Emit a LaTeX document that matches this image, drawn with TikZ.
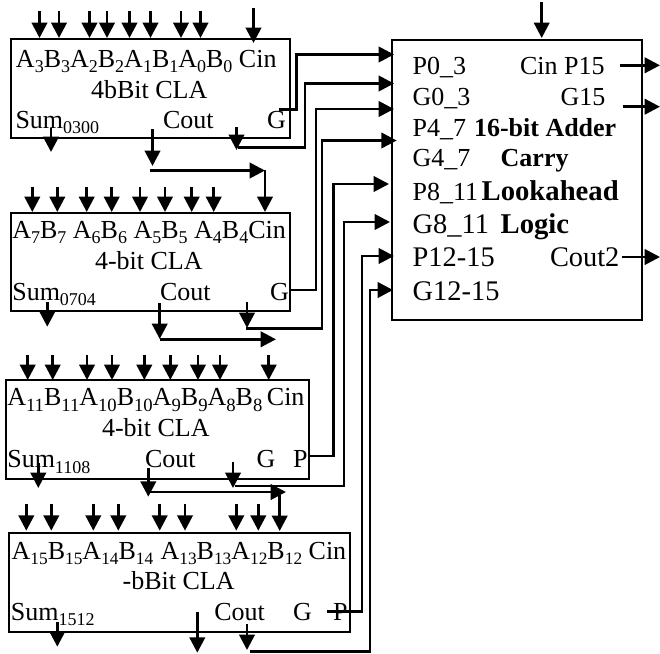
\documentclass[tikz,border=0pt]{standalone}
\usepackage{fontspec}
\setmainfont{Liberation Serif}
\usetikzlibrary{arrows.meta}
\newcommand\losize{13.5pt}
\newcommand\lo[1]{\raisebox{-0.22em}{\fontsize{\losize}{14pt}\selectfont #1}}
\newcommand\stub[4]{\coordinate (#1-a) at (#2,#3);\coordinate (#1-b) at (#2,#4);\draw[wire,tip] (#1-a) -- (#1-b);}
\newcommand\hstub[4]{\coordinate (#1-a) at (#2,#4);\coordinate (#1-b) at (#3,#4);\draw[wire,tip] (#1-a) -- (#1-b);}
\newcommand\elbow[6]{\coordinate (#1-a) at (#2,#3);\coordinate (#1-m) at (#4,#3);\coordinate (#1-n) at (#4,#5);\coordinate (#1-b) at (#6,#5);\draw[wire,tip] (#1-a) -- (#1-m) -- (#1-n) -- (#1-b);}
\tikzset{
  block/.style={draw=black,line width=1.5pt,anchor=north west,inner sep=0pt,outer sep=0pt},
  wire/.style={line width=2.1pt,draw=black},
  tip/.style={-{Triangle[width=11.5pt,length=11.5pt]}},
  lab/.style={anchor=base west,inner sep=0pt,outer sep=0pt,font=\fontsize{19.5pt}{22pt}\selectfont},
  biglab/.style={lab,font=\fontsize{21.3pt}{22pt}\selectfont},
  blab/.style={lab,font=\fontsize{19.5pt}{22pt}\selectfont\bfseries},
  bbiglab/.style={lab,font=\fontsize{21.5pt}{22pt}\selectfont\bfseries},
}
\begin{document}
\begin{tikzpicture}[x=0.75pt,y=-0.75pt]
\useasboundingbox (0,0) rectangle (660,653);
% blocks
\node[block,minimum width=279.5*.75pt,minimum height=98.5*.75pt] (b1) at (10.5,39) {};
\node[block,minimum width=279.5*.75pt,minimum height=98.5*.75pt] (b2) at (10.5,212.5) {};
\node[block,minimum width=302.5*.75pt,minimum height=99*.75pt] (b3) at (6,380) {};
\node[block,minimum width=341*.75pt,minimum height=98.5*.75pt] (b4) at (9,533) {};
\node[block,minimum width=250*.75pt,minimum height=280*.75pt] (adder) at (392,39.5) {};
% block 1 text
\node[lab] (t1a) at (16,67) {A\lo{3}B\lo{3}A\lo{2}B\lo{2}A\lo{1}B\lo{1}A\lo{0}B\lo{0} Cin};
\node[lab] (t1b) at (91,98) {4bBit CLA};
\node[lab] (t1c) at (15.5,128) {Sum\lo{0300}};
\node[lab] (t1d) at (163,128) {Cout};
\node[lab] (t1e) at (267,128) {G};
% block 2 text
\node[lab] (t2a) at (12.3,238) {A\lo{7}B\lo{7} A\lo{6}B\lo{6} A\lo{5}B\lo{5} A\lo{4}B\lo{4}Cin};
\node[lab] (t2b) at (95,269) {4-bit CLA};
\node[lab] (t2c) at (12.3,300) {Sum\lo{0704}};
\node[lab] (t2d) at (160,300) {Cout};
\node[lab] (t2e) at (270,300) {G};
% block 3 text
\node[lab] (t3a) at (7.3,405.7) {\renewcommand\losize{14pt}A\lo{11}B\lo{11}A\lo{10}B\lo{10}A\lo{9}B\lo{9}A\lo{8}B\lo{8}\hspace{3.4pt}Cin};
\node[lab] (t3b) at (102,436.7) {4-bit CLA};
\node[lab] (t3c) at (7.3,467.7) {Sum\lo{1108}};
\node[lab] (t3d) at (145,467.7) {Cout};
\node[lab] (t3e) at (256.7,467.7) {G};
\node[lab] (t3f) at (293,467.7) {P};
% block 4 text
\node[lab] (t4a) at (11.7,559) {\renewcommand\losize{13pt}A\lo{15}B\lo{15}A\lo{14}B\lo{14}\hspace{5.5pt}A\lo{13}B\lo{13}A\lo{12}B\lo{12} Cin};
\node[lab] (t4b) at (122.7,589.3) {-bBit CLA};
\node[lab] (t4c) at (11,620) {Sum\lo{1512}};
\node[lab] (t4d) at (214.3,620) {Cout};
\node[lab] (t4e) at (293,620) {G};
\node[lab] (t4f) at (333,620) {P};
% adder text
\node[lab] (p03) at (412.7,74) {P0\_3};
\node[lab] (g03) at (412.7,105) {G0\_3};
\node[lab] (p47) at (412.7,136) {P4\_7};
\node[lab] (g47) at (412.7,166.7) {G4\_7};
\node[lab] (p811) at (412.7,200) {P8\_11};
\node[biglab] (g811) at (412.7,233) {G8\_11};
\node[biglab] (p1215) at (412.7,266.7) {P12-15};
\node[biglab] (g1215) at (412.7,300) {G12-15};
\node[lab] (cinp) at (520,74) {Cin P15};
\node[lab] (g15) at (560.7,105) {G15};
\node[biglab] (cout2) at (550,266.7) {Cout2};
\node[blab] (ta1) at (474,136) {16-bit Adder};
\node[blab] (ta2) at (500.7,166.7) {Carry};
\node[bbiglab] (ta3) at (481.7,200) {Lookahead};
\node[bbiglab] (ta4) at (500.7,233) {Logic};
% input stubs
\foreach \n/\x in {a/39.5,b/59,c/89.5,d/107,e/129.5,f/150.5,g/181,h/200.5} {\stub{i1\n}{\x}{11}{38}}
\stub{cin1}{253.5}{8}{43}
\foreach \n/\x in {a/32.3,b/57.3,c/86.7,d/111.7,e/140,f/165,g/191.7,h/213.7} {\stub{i2\n}{\x}{187}{212}}
\foreach \n/\x in {a/27.7,b/52.7,c/87,d/112,e/144.3,f/170.3,g/198,h/220} {\stub{i3\n}{\x}{355}{380}}
\stub{cin3}{268.7}{355}{380}
\foreach \n/\x in {a/26.3,b/51.3,c/93.3,d/118.3,e/159.7,f/185,g/236.3,h/258.3} {\stub{i4\n}{\x}{504}{530.7}}
% sums and carries
\stub{s1}{51}{128}{152}
\stub{s2}{47.3}{301.7}{326.7}
\stub{s3}{38.3}{463}{488}
\stub{s4}{57.3}{621.7}{646.7}
\stub{c1}{152.5}{129}{166}
\stub{c2}{159.7}{303}{339}
\stub{c3}{148.3}{468}{496.7}
\stub{c4}{197.3}{611.7}{652.7}
\hstub{c1h}{149.5}{265}{170.5}
\stub{c1v}{265}{170}{212}
\hstub{c2h}{160}{276}{339.3}
\hstub{c3h}{148}{286}{492}
\stub{c3v}{279.7}{495}{531}
\stub{x1}{236.5}{127}{150}
\stub{x2}{247}{301.7}{328}
\stub{x3}{233}{462}{488}
\stub{x4}{247}{624}{650}
% links into the lookahead block
\elbow{l1}{279}{109.3}{296.7}{54.5}{394}
\elbow{l2}{238}{147.7}{305}{83.5}{394}
\elbow{l3}{291}{290}{316}{109}{394}
\elbow{l4}{246}{328.3}{322}{140.5}{396.7}
\elbow{l5}{308}{456}{333.4}{184}{389}
\elbow{l6}{235}{486}{344}{222}{390}
\elbow{l7}{327}{611.7}{362}{256}{394}
\elbow{l8}{249.5}{651.7}{370}{290}{393}
% lookahead block ports
\stub{cin0}{541.7}{2}{38}
\hstub{o1}{620}{660}{65.3}
\hstub{o2}{623}{660}{106.7}
\hstub{o3}{621.7}{660}{257}
\end{tikzpicture}
\end{document}
